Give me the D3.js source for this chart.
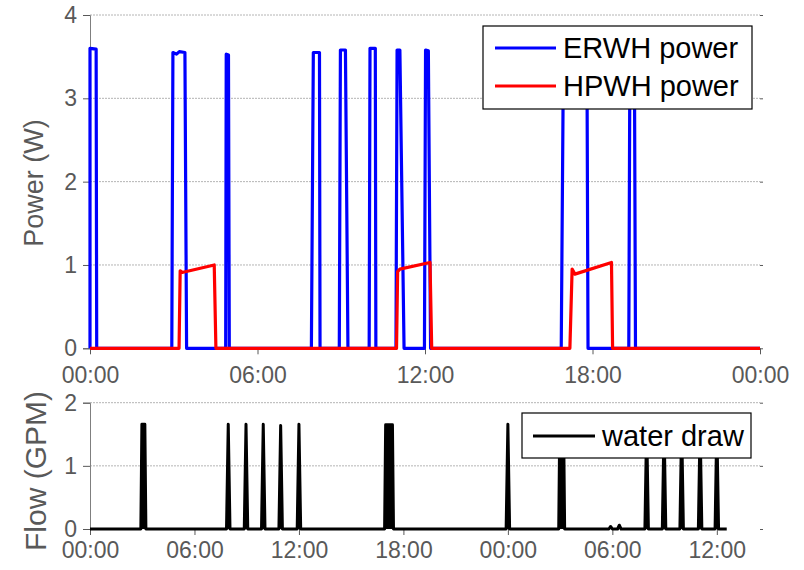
<!DOCTYPE html>
<html>
<head>
<meta charset="utf-8">
<script src="https://cdn.jsdelivr.net/npm/d3@7"></script>
<style>
  body { margin: 0; background: #fff; }
  svg { font-family: "Liberation Sans", Arial, sans-serif; }
</style>
</head>
<body>
<svg id="vis" width="804" height="570"></svg>
<script>
// top panel: power, hours since midnight
var erwhHours = [0, 0.0, 0.22, 0.24, 2.93, 2.97, 3.1, 3.2, 3.4, 3.46, 4.86, 4.88, 4.96, 4.99,
  7.93, 8.0, 8.22, 8.24, 8.93, 8.97, 9.15, 9.24, 10.0, 10.03, 10.22, 10.24,
  10.96, 11.0, 11.1, 11.25, 11.98, 12.02, 12.12, 12.2, 16.88, 16.96, 17.8, 17.84,
  19.3, 19.34, 19.5, 19.54, 24];
var erwhPower = [0, 3.6, 3.59, 0, 0, 3.55, 3.53, 3.56, 3.55, 0, 0, 3.53, 3.52, 0,
  0, 3.55, 3.55, 0, 0, 3.58, 3.58, 0, 0, 3.6, 3.6, 0,
  0, 3.58, 3.58, 0, 0, 3.58, 3.57, 0, 0, 3.58, 3.58, 0,
  0, 3.58, 3.58, 0, 0];
var hpwhHours = [0, 3.19, 3.23, 3.3, 4.45, 4.51, 10.98, 11.02, 11.1, 12.18, 12.24,
  17.19, 17.27, 17.37, 18.68, 18.72, 24];
var hpwhPower = [0, 0, 0.93, 0.91, 1.0, 0, 0, 0.92, 0.95, 1.03, 0,
  0, 0.95, 0.89, 1.03, 0, 0];
var topTicks = [0, 6, 12, 18, 24];
var topTickLabels = ["00:00", "06:00", "12:00", "18:00", "00:00"];

// bottom panel: water draw events (start hour, end hour, peak GPM)
var drawStart = [2.98, 7.94, 8.96, 9.95, 10.95, 12.0, 16.98, 24.0, 26.98, 29.9, 30.4, 31.97, 32.97, 33.98, 35.04, 36.0];
var drawEnd   = [3.15, 7.94, 8.96, 9.95, 10.95, 12.0, 17.37, 24.0, 27.2, 29.9, 30.4, 31.97, 32.97, 33.98, 35.04, 36.0];
var drawPeak  = [1.66, 1.66, 1.66, 1.66, 1.64, 1.66, 1.65, 1.66, 1.66, 0.04, 0.06, 1.66, 1.66, 1.66, 1.66, 1.66];
var drawLastHour = 36.57;
var bottomTicks = [0, 6, 12, 18, 24, 30, 36];
var bottomTickLabels = ["00:00", "06:00", "12:00", "18:00", "00:00", "06:00", "12:00"];

var vis = d3.select("#vis");
var grey = "#595959";

function toPts(xs, ys) {
  return xs.map(function(x, i) { return [x, ys[i]]; });
}

// water draw events turned into a trace
var waterPts = [[0, 0]];
drawStart.forEach(function(s, i) {
  var e = drawEnd[i], p = drawPeak[i];
  var r = (e > s) ? 0.06 : 0.1;
  waterPts.push([s - r, 0], [s, p], [e, p], [e + r, 0]);
});
waterPts.push([drawLastHour, 0]);

function panel(o) {
  var g = vis.append("g");
  var x = d3.scaleLinear().domain(o.xDomain).range([90, 760]);
  var y = d3.scaleLinear().domain(o.yDomain).range([o.y0, o.y1]);

  // dotted grid
  g.selectAll(".grid").data(o.yTicks.filter(function(d) { return d > 0; }))
    .enter().append("line")
    .attr("x1", 90).attr("x2", 760)
    .attr("y1", function(d) { return y(d); }).attr("y2", function(d) { return y(d); })
    .attr("stroke", "#b4b4b4").attr("stroke-dasharray", "2,1").attr("stroke-width", 1);

  // left axis
  var yl = g.append("g").attr("transform", "translate(90,0)")
    .call(d3.axisLeft(y).tickValues(o.yTicks).tickSize(7).tickPadding(6).tickFormat(d3.format("d")));
  yl.select(".domain").attr("stroke", "#7f7f7f");
  yl.selectAll(".tick line").attr("stroke", grey);
  yl.selectAll("text").attr("fill", grey).style("font-size", "23px");

  // right ticks only
  var yr = g.append("g").attr("transform", "translate(760,0)")
    .call(d3.axisRight(y).tickValues(o.yTicks).tickSize(3).tickFormat(""));
  yr.select(".domain").remove();
  yr.selectAll(".tick line").attr("stroke", grey);

  // bottom axis
  var xa = g.append("g").attr("transform", "translate(0," + o.y0 + ")")
    .call(d3.axisBottom(x).tickValues(o.xTicks).tickSize(6).tickPadding(o.xPad)
      .tickFormat(function(d, i) { return o.xLabels[i]; }));
  xa.select(".domain").remove();
  xa.selectAll(".tick line").attr("stroke", grey);
  xa.selectAll("text").attr("fill", grey).style("font-size", "23px");

  g.append("text")
    .attr("transform", "translate(" + o.labelX + "," + o.labelY + ") rotate(-90)")
    .attr("text-anchor", "middle").attr("dy", "0.35em")
    .attr("fill", grey).style("font-size", o.labelSize)
    .text(o.label);

  return { g: g, x: x, y: y };
}

var topP = panel({
  xDomain: [0, 24], yDomain: [0, 4], y0: 348.3, y1: 15, xPad: 12,
  yTicks: [0, 1, 2, 3, 4], xTicks: topTicks, xLabels: topTickLabels,
  label: "Power (W)", labelX: 34, labelY: 183, labelSize: "27px"
});
var lineTop = d3.line()
  .x(function(d) { return topP.x(d[0]); })
  .y(function(d) { return topP.y(d[1]); });

topP.g.append("path")
  .attr("d", lineTop(toPts(erwhHours, erwhPower)))
  .attr("stroke", "#0000ff").attr("stroke-width", 3.2).attr("fill", "none")
  .attr("stroke-linejoin", "round");
topP.g.append("path")
  .attr("d", lineTop(toPts(hpwhHours, hpwhPower)))
  .attr("stroke", "#ff0000").attr("stroke-width", 3.2).attr("fill", "none")
  .attr("stroke-linejoin", "round");

// top legend
var lg = topP.g.append("g");
lg.append("rect").attr("x", 483).attr("y", 26).attr("width", 269).attr("height", 83)
  .attr("fill", "#fff").attr("stroke", "#000").attr("stroke-width", 1.2);
[["ERWH power", "#0000ff", 48], ["HPWH power", "#ff0000", 86]].forEach(function(r) {
  lg.append("line").attr("x1", 495).attr("x2", 556).attr("y1", r[2]).attr("y2", r[2])
    .attr("stroke", r[1]).attr("stroke-width", 3);
  lg.append("text").attr("x", 563).attr("y", r[2]).attr("dy", "0.35em")
    .style("font-size", "29px").attr("fill", "#000").text(r[0]);
});

var bot = panel({
  xDomain: [0, 38.48], yDomain: [0, 2], y0: 529, y1: 402.7, xPad: 7,
  yTicks: [0, 1, 2], xTicks: bottomTicks, xLabels: bottomTickLabels,
  label: "Flow (GPM)", labelX: 35, labelY: 471, labelSize: "30px"
});
var area = d3.area()
  .x(function(d) { return bot.x(d[0]); })
  .y0(bot.y(0))
  .y1(function(d) { return bot.y(d[1]); });
var lineBot = d3.line()
  .x(function(d) { return bot.x(d[0]); })
  .y(function(d) { return bot.y(d[1]); });
bot.g.append("path").attr("d", area(waterPts)).attr("fill", "#000");
bot.g.append("path").attr("d", lineBot(waterPts))
  .attr("stroke", "#000").attr("stroke-width", 3).attr("fill", "none")
  .attr("stroke-linejoin", "round");

// bottom legend
var lb = bot.g.append("g");
lb.append("rect").attr("x", 522).attr("y", 413).attr("width", 229).attr("height", 45)
  .attr("fill", "#fff").attr("stroke", "#000").attr("stroke-width", 1.2);
lb.append("line").attr("x1", 533).attr("x2", 595).attr("y1", 436).attr("y2", 436)
  .attr("stroke", "#000").attr("stroke-width", 3);
lb.append("text").attr("x", 602).attr("y", 436).attr("dy", "0.35em")
  .style("font-size", "29px").attr("fill", "#000").text("water draw");
</script>
</body>
</html>
